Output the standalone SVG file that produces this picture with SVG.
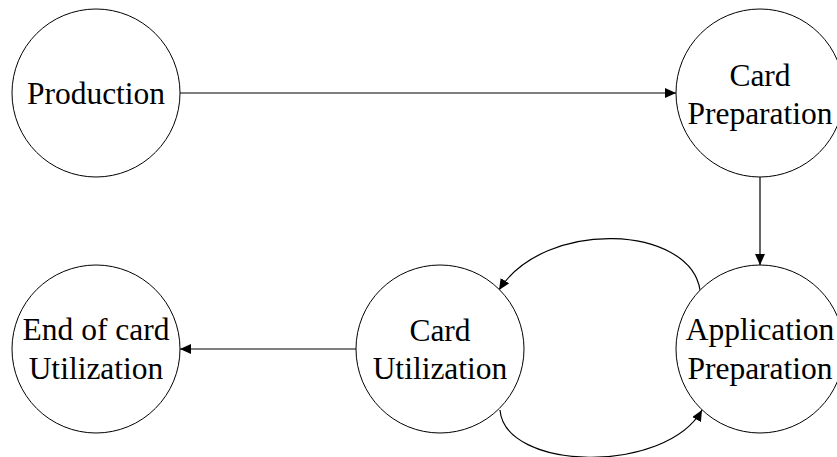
<svg xmlns="http://www.w3.org/2000/svg" width="837" height="457" viewBox="0 0 837 457">
  <defs>
    <style>
      .node circle { fill: #ffffff; stroke: #000000; stroke-width: 1; }
      .node text { font-family: "Liberation Serif", "Times New Roman", serif; font-size: 31.5px; fill: #000000; text-anchor: middle; }
      .edge { fill: none; stroke: #000000; stroke-width: 1.2; marker-end: url(#arrow); }
    </style>
    <marker id="arrow" markerUnits="userSpaceOnUse" markerWidth="12" markerHeight="10" refX="11" refY="5" orient="auto">
      <path d="M0,0 L11,5 L0,10 Z" fill="#000000"/>
    </marker>
  </defs>
  <rect width="837" height="457" fill="#ffffff"/>

  <g id="connectors">
    <path class="edge" d="M180,93 L676,93"/>
    <path class="edge" d="M760,177 L760,265"/>
    <path class="edge" d="M700,290 C690,225 545,218 499,290"/>
    <path class="edge" d="M500,410 C505,471 665,475 702,410"/>
    <path class="edge" d="M356,349 L180,349"/>
  </g>

  <g id="production" class="node">
    <circle cx="96" cy="93" r="84"/>
    <text x="96" y="104">Production</text>
  </g>
  <g id="card-preparation" class="node">
    <circle cx="760" cy="93" r="84"/>
    <text x="760" y="86">Card</text>
    <text x="760" y="124">Preparation</text>
  </g>
  <g id="application-preparation" class="node">
    <circle cx="760" cy="349" r="84"/>
    <text x="760" y="340">Application</text>
    <text x="760" y="379">Preparation</text>
  </g>
  <g id="card-utilization" class="node">
    <circle cx="440" cy="349" r="84"/>
    <text x="440" y="341">Card</text>
    <text x="440" y="379">Utilization</text>
  </g>
  <g id="end-of-card-utilization" class="node">
    <circle cx="96" cy="349" r="84"/>
    <text x="96" y="340">End of card</text>
    <text x="96" y="379">Utilization</text>
  </g>
</svg>
